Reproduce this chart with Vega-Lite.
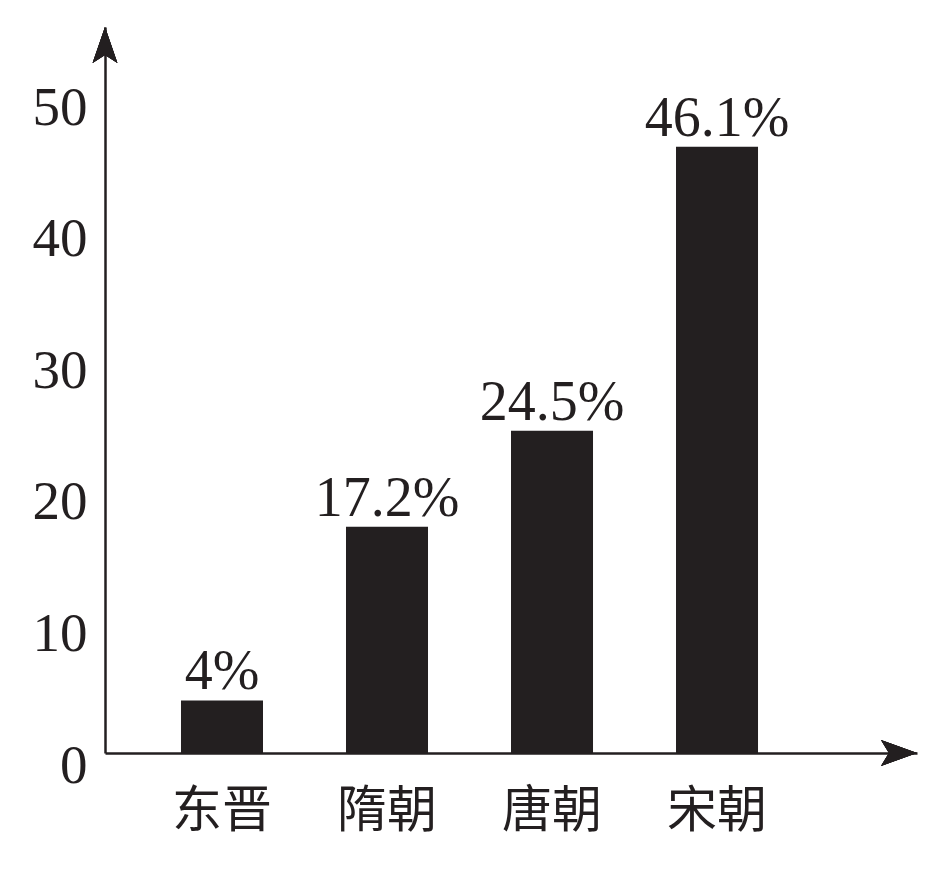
{
  "$schema": "https://vega.github.io/schema/vega-lite/v6.json",
  "width": 812,
  "height": 726,
  "autosize": {"type": "none"},
  "padding": {"left": 105, "top": 27, "right": 11, "bottom": 120},
  "background": "white",
  "config": {"view": {"stroke": null}},
  "data": {
    "values": [
      {"dynasty": "东晋", "value": 4, "label": "4%"},
      {"dynasty": "隋朝", "value": 17.2, "label": "17.2%"},
      {"dynasty": "唐朝", "value": 24.5, "label": "24.5%"},
      {"dynasty": "宋朝", "value": 46.1, "label": "46.1%"}
    ]
  },
  "layer": [
    {
      "mark": {"type": "bar", "color": "#231f20"},
      "encoding": {
        "x": {
          "field": "dynasty",
          "type": "nominal",
          "sort": null,
          "scale": {"paddingInner": 0.503, "paddingOuter": 0.712, "align": 0.3234, "round": false},
          "axis": {
            "title": null,
            "labelAngle": 0,
            "labelFont": "Noto Sans CJK SC",
            "labelFontSize": 50,
            "labelFontWeight": "normal",
            "labelColor": "#231f20",
            "labelPadding": 33,
            "ticks": false,
            "domainColor": "#231f20",
            "domainWidth": 2.5,
            "grid": false
          }
        },
        "y": {
          "field": "value",
          "type": "quantitative",
          "scale": {"domain": [0, 55.2], "nice": false},
          "axis": {
            "title": null,
            "values": [0, 10, 20, 30, 40, 50],
            "labelFont": "Liberation Serif",
            "labelFontSize": 55,
            "labelColor": "#231f20",
            "labelPadding": 18,
            "labelOffset": 12,
            "ticks": false,
            "grid": false,
            "domainColor": "#231f20",
            "domainWidth": 2.5
          }
        }
      }
    },
    {
      "mark": {"type": "text", "font": "Liberation Serif", "fontSize": 56, "color": "#231f20", "baseline": "alphabetic", "dy": -11},
      "encoding": {
        "x": {"field": "dynasty", "type": "nominal", "sort": null},
        "y": {"field": "value", "type": "quantitative"},
        "text": {"field": "label"}
      }
    },
    {
      "mark": {"type": "point", "shape": "M0,-1 L0.69,1 L0,0.56 L-0.69,1 Z", "size": 1296, "filled": true, "color": "#231f20", "opacity": 1, "yOffset": 18},
      "encoding": {
        "x": {"value": 0},
        "y": {"value": 0}
      }
    },
    {
      "mark": {"type": "point", "shape": "M1,0 L-1,-0.72 L-0.56,0 L-1,0.72 Z", "size": 1296, "filled": true, "color": "#231f20", "opacity": 1, "xOffset": -18},
      "encoding": {
        "x": {"value": {"expr": "width"}},
        "y": {"value": {"expr": "height"}}
      }
    }
  ]
}
